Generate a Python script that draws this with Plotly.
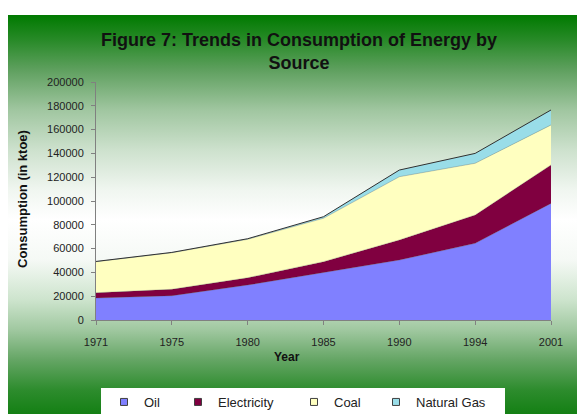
import base64
import plotly.graph_objects as go

# ---- data ----
years = ["1971", "1975", "1980", "1985", "1990", "1994", "2001"]
oil = [18500, 20400, 29400, 39800, 50400, 64400, 98000]
electricity = [4400, 5400, 6100, 9200, 16800, 23800, 32300]
coal = [26100, 30700, 32300, 36500, 53200, 43500, 33600]
natural_gas = [200, 300, 500, 1300, 5600, 8300, 12600]
series_names = ["Oil", "Electricity", "Coal", "Natural Gas"]
series_colors = ["#8080FF", "#800040", "#FFFFC0", "#99DDE8"]
y_ticks = list(range(0, 200001, 20000))

# page has a default 8px body margin, so figure is drawn at (8, 8)
OFF = 8
W, H = 585 - OFF, 414 - OFF
# plot area in page pixels
L, R, T, B = 96, 551, 82, 320
pw, ph = R - L, B - T


def px_x(p):  # page px -> paper x
    return (p - L) / pw


def px_y(p):  # page px -> paper y
    return (B - p) / ph


# ---- gradient background panel as svg image ----
stops = [
    (0.0, "rgb(0,122,0)"), (0.063, "rgb(40,138,40)"), (0.138, "rgb(95,160,95)"),
    (0.238, "rgb(160,198,160)"), (0.338, "rgb(205,225,205)"), (0.439, "rgb(240,246,240)"),
    (0.514, "rgb(255,255,255)"), (0.614, "rgb(245,249,245)"), (0.714, "rgb(205,228,205)"),
    (0.789, "rgb(160,200,160)"), (0.865, "rgb(100,165,100)"), (0.94, "rgb(45,140,45)"),
    (1.0, "rgb(20,128,20)"),
]
stop_xml = "".join(f'<stop offset="{o}" stop-color="{c}"/>' for o, c in stops)
svg = (
    '<svg xmlns="http://www.w3.org/2000/svg" width="577" height="399" '
    'viewBox="0 0 577 399" preserveAspectRatio="none">'
    f'<defs><linearGradient id="g" x1="0" y1="0" x2="0" y2="1">{stop_xml}</linearGradient></defs>'
    '<rect x="0" y="0" width="577" height="399" fill="url(#g)"/></svg>'
)
src = "data:image/svg+xml;base64," + base64.b64encode(svg.encode()).decode()

fig = go.Figure()
values = [oil, electricity, coal, natural_gas]
for name, vals, col in zip(series_names, values, series_colors):
    lw = 1 if name == "Natural Gas" else 0.5
    lc = "#303030" if name == "Natural Gas" else "rgba(60,60,60,0.5)"
    fig.add_trace(go.Scatter(
        x=years, y=vals, name=name, mode="lines", stackgroup="one",
        fillcolor=col, line=dict(color=lc, width=lw), showlegend=False,
        hoverinfo="x+y+name",
    ))

# legend entries (square swatches), each in its own legend for exact placement
legend_lefts = [104, 178, 294, 376]  # page px
legend_keys = ["legend", "legend2", "legend3", "legend4"]
for name, col, key in zip(series_names, series_colors, legend_keys):
    fig.add_trace(go.Scatter(
        x=[None], y=[None], name=name, mode="markers", legend=key,
        marker=dict(symbol="square", size=7, color=col, line=dict(color="#404040", width=1)),
        showlegend=True,
    ))

legend_common = dict(
    orientation="h", yanchor="middle", xanchor="left", y=px_y(402),
    bgcolor="rgba(0,0,0,0)", borderwidth=0,
    font=dict(family="Liberation Sans, Arial, sans-serif", size=13, color="#222222"),
    itemwidth=30,
)
legend_layouts = {}
for key, lft in zip(legend_keys, legend_lefts):
    legend_layouts[key] = dict(legend_common, x=px_x(lft))

fig.update_layout(
    width=W, height=H,
    margin=dict(l=L - OFF, r=585 - R, t=T - OFF, b=414 - B, autoexpand=False),
    paper_bgcolor="white", plot_bgcolor="rgba(0,0,0,0)",
    font=dict(family="Liberation Sans, Arial, sans-serif", size=11, color="#222222"),
    title=dict(
        text="<b>Figure 7: Trends in Consumption of Energy by<br>Source</b>",
        xref="paper", x=px_x(299), xanchor="center",
        yref="container", y=1 - (46 - OFF) / H, yanchor="middle",
        font=dict(family="Liberation Sans, Arial, sans-serif", size=18, color="#111111"),
    ),
    xaxis=dict(
        type="category", range=[0, 6], showgrid=False, zeroline=False,
        showline=True, linecolor="#808080", linewidth=1,
        ticks="outside", ticklen=4, tickcolor="#808080", ticklabelstandoff=8,
        tickfont=dict(size=11, color="#222222"),
    ),
    yaxis=dict(
        range=[0, 200000], tickvals=y_ticks, tickformat="d", showgrid=False, zeroline=False,
        showline=True, linecolor="#808080", linewidth=1,
        ticks="outside", ticklen=4, tickcolor="#808080", ticklabelstandoff=5,
        tickfont=dict(size=11, color="#222222"),
    ),
    images=[dict(
        source=src, xref="paper", yref="paper",
        x=px_x(8), y=px_y(15), sizex=577 / pw, sizey=399 / ph,
        xanchor="left", yanchor="top", sizing="stretch", layer="below",
    )],
    shapes=[dict(
        type="rect", xref="paper", yref="paper", layer="above",
        x0=px_x(101), x1=px_x(505), y0=px_y(388), y1=px_y(420),
        fillcolor="white", line=dict(width=0),
    )],
    annotations=[
        dict(text="<b>Consumption (in ktoe)</b>", textangle=-90, xref="paper", yref="paper",
             x=px_x(22), y=px_y(199), xanchor="center", yanchor="middle", showarrow=False,
             font=dict(size=13, color="#111111")),
        dict(text="<b>Year</b>", xref="paper", yref="paper",
             x=px_x(287), y=px_y(357), xanchor="center", yanchor="middle", showarrow=False,
             font=dict(size=12, color="#111111")),
    ],
    **legend_layouts,
)

fig.write_html("out.html")
